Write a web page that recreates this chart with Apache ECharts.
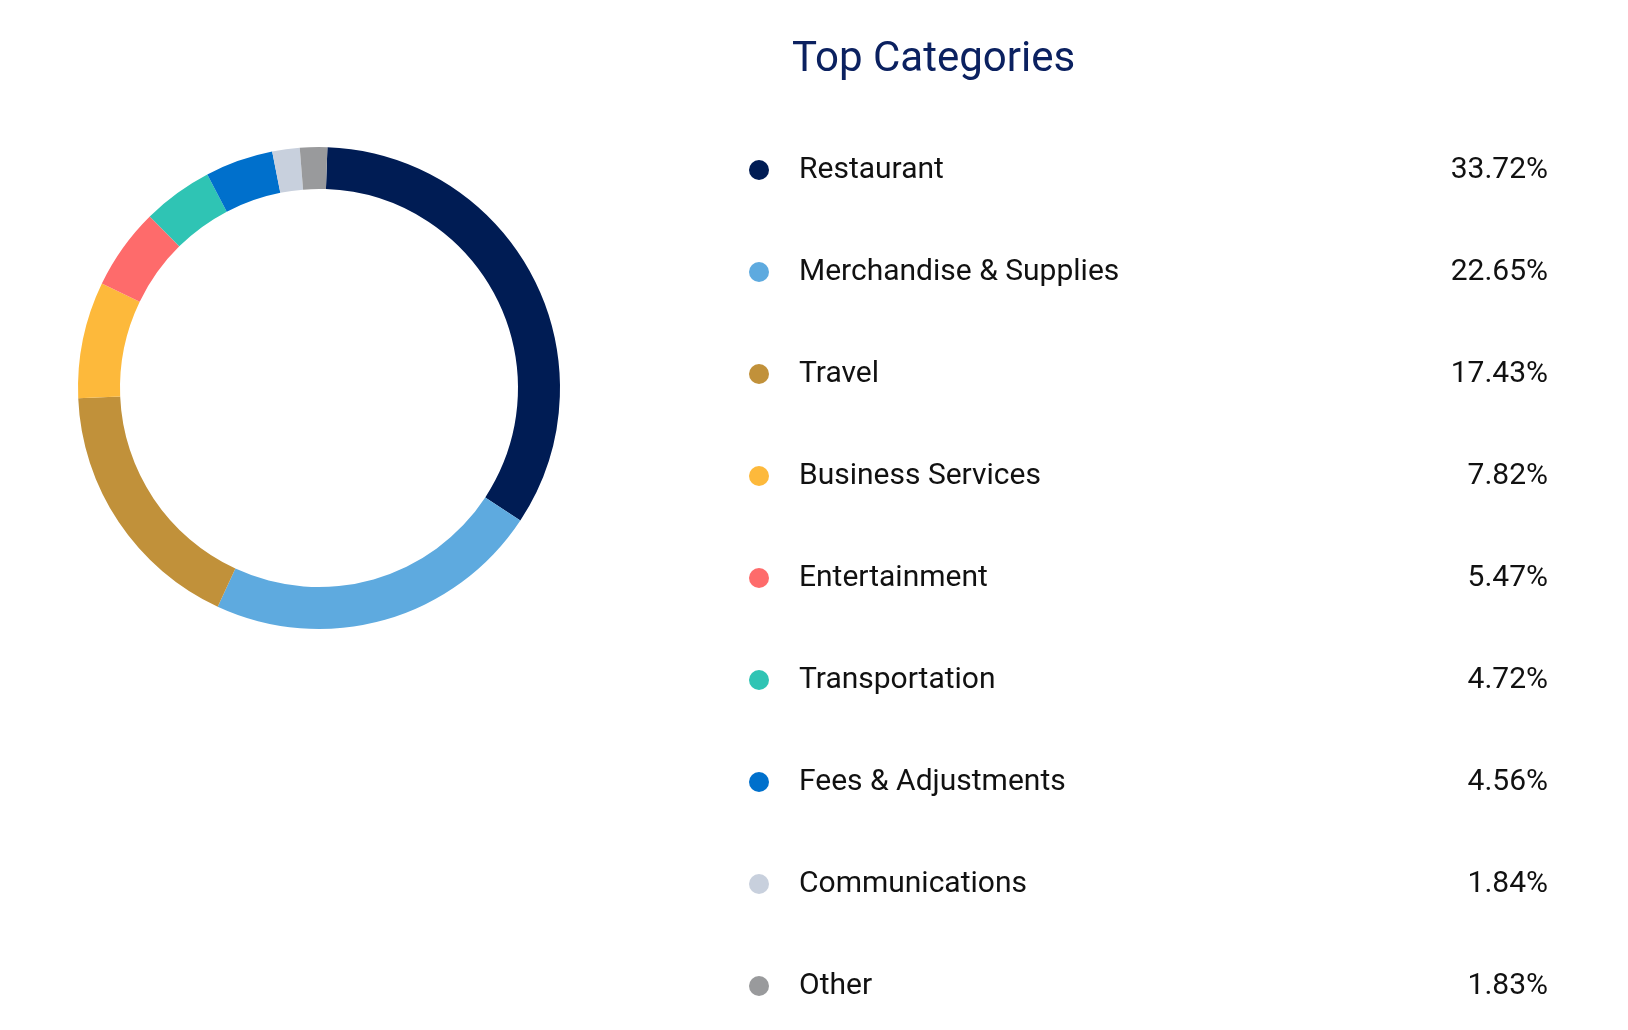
<!DOCTYPE html>
<html>
<head>
<meta charset="utf-8">
<script src="https://cdn.jsdelivr.net/npm/echarts@6/dist/echarts.min.js"></script>
<style>
  html, body { margin: 0; padding: 0; background: #fff; }
  #chart { width: 1628px; height: 1030px; }
</style>
</head>
<body>
<div id="chart"></div>
<script>
// 分类与占比
const categories = ['Restaurant', 'Merchandise & Supplies', 'Travel', 'Business Services', 'Entertainment',
  'Transportation', 'Fees & Adjustments', 'Communications', 'Other'];
const percents = [33.72, 22.65, 17.43, 7.82, 5.47, 4.72, 4.56, 1.84, 1.83];
const colors = ['#001c54', '#5eaadf', '#c1913a', '#fdb93b', '#fe6b6b', '#2fc4b4', '#0070cc', '#c8d0dd', '#999a9c'];

const chart = echarts.init(document.getElementById('chart'));

const pctMap = {};
categories.forEach((c, i) => { pctMap[c] = percents[i]; });

chart.setOption({
  color: colors,
  title: {
    text: 'Top Categories',
    left: 787,
    top: 34,
    textStyle: { fontFamily: 'Roboto', fontSize: 42, fontWeight: 'normal', color: '#0b2160' }
  },
  legend: {
    orient: 'vertical',
    left: 744,
    top: 150,
    itemGap: 72,
    itemWidth: 20,
    itemHeight: 20,
    icon: 'circle',
    selectedMode: false,
    data: categories,
    formatter: name => `{n|${name}}{v|${pctMap[name].toFixed(2)}%}`,
    textStyle: {
      rich: {
        n: { fontFamily: 'Roboto', fontSize: 30, color: '#111', width: 609, padding: [0, 0, 0, 25] },
        v: { fontFamily: 'Roboto', fontSize: 30, color: '#111', width: 140, align: 'right' }
      }
    }
  },
  series: [{
    type: 'pie',
    center: [319, 388],
    radius: [199, 241],
    startAngle: 88,
    clockwise: true,
    label: { show: false },
    labelLine: { show: false },
    emphasis: { disabled: true },
    data: categories.map((c, i) => ({ name: c, value: percents[i] }))
  }]
});
</script>
</body>
</html>
